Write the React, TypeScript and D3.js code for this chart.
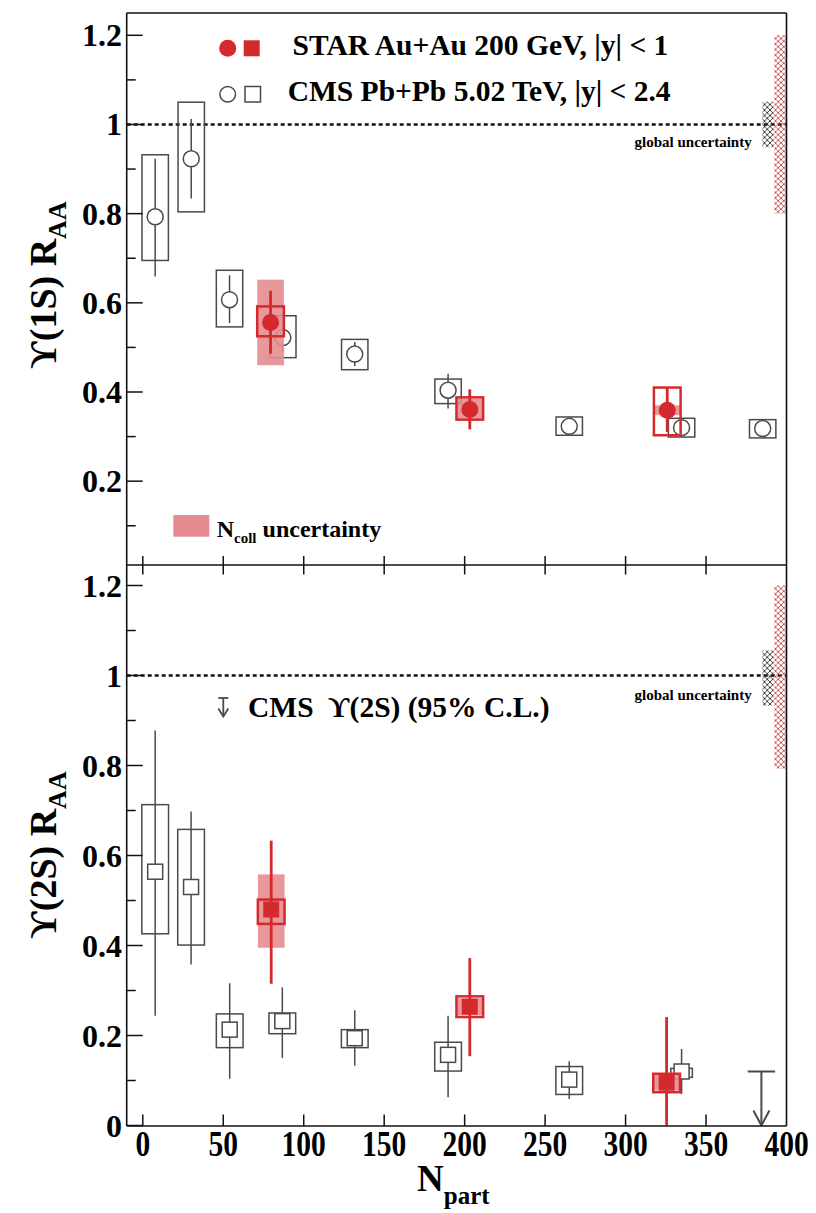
import React from 'react';
import * as d3 from 'd3';

// ---------- data ----------
// CMS Upsilon(1S), Pb+Pb 5.02 TeV
const cms1sNpart = [7.7, 30.1, 53.9, 87.0, 131.7, 189.7, 265.0, 334.8, 385.2];
const cms1sRaa = [0.793, 0.923, 0.607, 0.522, 0.485, 0.404, 0.323, 0.32, 0.318];
const cms1sStatLo = [0.659, 0.834, 0.555, 0.49, 0.458, 0.363, 0.31, 0.308, 0.306];
const cms1sStatHi = [0.923, 1.012, 0.662, 0.555, 0.512, 0.441, 0.336, 0.332, 0.33];
const cms1sSysLo = [0.695, 0.804, 0.546, 0.477, 0.45, 0.374, 0.303, 0.299, 0.297];
const cms1sSysHi = [0.932, 1.05, 0.673, 0.571, 0.518, 0.429, 0.344, 0.341, 0.338];

// STAR Upsilon(1S), Au+Au 200 GeV
const star1sNpart = [79.4, 203.2, 325.9];
const star1sRaa = [0.556, 0.361, 0.359];
const star1sStatLo = [0.486, 0.316, 0.31];
const star1sStatHi = [0.627, 0.406, 0.41];
const star1sSysLo = [0.525, 0.338, 0.303];
const star1sSysHi = [0.592, 0.388, 0.41];
const star1sNcollLo = [0.46, 0.34, 0.348];
const star1sNcollHi = [0.652, 0.385, 0.37];

// CMS Upsilon(2S)
const cms2sNpart = [7.7, 30.0, 54.0, 86.7, 131.7, 189.7, 265.0, 334.8];
const cms2sRaa = [0.564, 0.53, 0.213, 0.232, 0.194, 0.157, 0.102, 0.12];
const cms2sStatLo = [0.244, 0.358, 0.104, 0.15, 0.133, 0.063, 0.059, 0.07];
const cms2sStatHi = [0.878, 0.698, 0.316, 0.307, 0.256, 0.244, 0.143, 0.17];
const cms2sSysLo = [0.426, 0.401, 0.173, 0.204, 0.173, 0.121, 0.069, 0.107];
const cms2sSysHi = [0.713, 0.658, 0.248, 0.25, 0.213, 0.185, 0.131, 0.127];
const cms2sBoxHalf = [8.3, 8.3, 8.3, 8.3, 8.3, 8.3, 8.3, 6.7];
const cms2sLimitNpart = [384.4];
const cms2sLimit = [0.12];

// STAR Upsilon(2S)
const star2sNpart = [79.8, 203.2, 325.5];
const star2sRaa = [0.48, 0.264, 0.095];
const star2sStatLo = [0.315, 0.154, 0.0];
const star2sStatHi = [0.633, 0.372, 0.241];
const star2sSysLo = [0.448, 0.241, 0.074];
const star2sSysHi = [0.502, 0.287, 0.115];
const star2sNcollLo = [0.395, 0.245, 0.078];
const star2sNcollHi = [0.558, 0.283, 0.112];

// global uncertainties (around unity)
const globalCms1s = [0.949, 1.051];
const globalStar1s = [0.8, 1.2];
const globalCms2s = [0.933, 1.056];
const globalStar2s = [0.793, 1.2];
const globalCmsX = [385, 392];
const globalStarX = [392.4, 400];

const xTicks = [0, 50, 100, 150, 200, 250, 300, 350, 400];
const yTicksTop = [0.2, 0.4, 0.6, 0.8, 1, 1.2];
const yTicksBottom = [0, 0.2, 0.4, 0.6, 0.8, 1, 1.2];

// ---------- styling ----------
const RED = '#d42a2e';
const PINK = '#e68c90';
const GRAY = '#4a4a4a';
const FONT = "'Liberation Serif', 'Times New Roman', 'DejaVu Serif', serif";

const xL = 126.7;
const xR = 786.5;
const topY0 = 13;
const midY = 565;
const botY1 = 1126;

const x = d3.scaleLinear().domain([-10, 400]).range([xL, xR]);
const yT = d3.scaleLinear().domain([0.012, 1.25]).range([midY, topY0]);
const yB = d3.scaleLinear().domain([0, 1.25]).range([1125.5, 563]);

const CMS_HALF = 8.2;
const STAR_HALF = 8.3;

function fmt(v: number) {
  return d3.format('~g')(+v.toFixed(2));
}

function LeftTicks({ y, lo, hi, labels }: { y: any; lo: number; hi: number; labels: number[] }) {
  const minor = d3.range(Math.round(lo * 10), Math.round(hi * 10) + 1).map((k) => k / 10);
  return (
    <g>
      {minor.map((v) => {
        const major = Math.round(v * 10) % 2 === 0;
        return (
          <line key={v} x1={xL} x2={xL + (major ? 16 : 9)} y1={y(v)} y2={y(v)} stroke="#111" strokeWidth={1.5} />
        );
      })}
      {labels.map((v) => (
        <text key={'l' + v} x={122} y={y(v) + 11} textAnchor="end" fontSize={32} fontWeight="bold" fontFamily={FONT}>
          {fmt(v)}
        </text>
      ))}
    </g>
  );
}

function GlobalBands({ y, cms, star, textY }: { y: any; cms: number[]; star: number[]; textY: number }) {
  return (
    <g>
      <line x1={xL} x2={xR} y1={y(1)} y2={y(1)} stroke="#111" strokeWidth={2.4} strokeDasharray="4 3" />
      <rect x={x(globalCmsX[0])} width={x(globalCmsX[1]) - x(globalCmsX[0])} y={y(cms[1])} height={y(cms[0]) - y(cms[1])} fill="url(#hatchBlack)" />
      <rect x={x(globalStarX[0])} width={x(globalStarX[1]) - x(globalStarX[0])} y={y(star[1])} height={y(star[0]) - y(star[1])} fill="url(#hatchRed)" />
      <text x={751.7} y={textY} textAnchor="end" fontSize={15} fontWeight="bold" fontFamily={FONT}>
        global uncertainty
      </text>
    </g>
  );
}

export default function App() {
  return (
    <svg
      width={816}
      height={1213}
      viewBox="0 0 816 1213"
      style={{ position: 'absolute', left: 0, top: 0, background: '#fff' }}
    >
      <defs>
        <pattern id="hatchRed" width={5.5} height={5.5} patternUnits="userSpaceOnUse">
          <path d="M0,0 L5.5,5.5 M5.5,0 L0,5.5" stroke="#c4484c" strokeWidth={0.9} />
        </pattern>
        <pattern id="hatchBlack" width={5.5} height={5.5} patternUnits="userSpaceOnUse">
          <path d="M0,0 L5.5,5.5 M5.5,0 L0,5.5" stroke="#333" strokeWidth={0.9} />
        </pattern>
        <clipPath id="clipTop">
          <rect x={xL} y={topY0} width={xR - xL} height={midY - topY0} />
        </clipPath>
        <clipPath id="clipBot">
          <rect x={xL} y={midY} width={xR - xL} height={botY1 - midY} />
        </clipPath>
      </defs>
      <rect x={0} y={0} width={816} height={1213} fill="#fff" />

      {/* ================= TOP PANEL ================= */}
      <g clipPath="url(#clipTop)">
        <GlobalBands y={yT} cms={globalCms1s} star={globalStar1s} textY={146.5} />
        {/* CMS 1S */}
        {cms1sNpart.map((n, i) => (
          <g key={'c1' + i}>
            <rect
              x={x(n - CMS_HALF)}
              width={x(n + CMS_HALF) - x(n - CMS_HALF)}
              y={yT(cms1sSysHi[i])}
              height={yT(cms1sSysLo[i]) - yT(cms1sSysHi[i])}
              fill="none"
              stroke={GRAY}
              strokeWidth={1.5}
            />
            <line x1={x(n)} x2={x(n)} y1={yT(cms1sStatHi[i])} y2={yT(cms1sStatLo[i])} stroke={GRAY} strokeWidth={1.5} />
            <circle cx={x(n)} cy={yT(cms1sRaa[i])} r={8} fill="#fff" stroke={GRAY} strokeWidth={1.5} />
          </g>
        ))}
        {/* STAR 1S */}
        {star1sNpart.map((n, i) => (
          <g key={'s1' + i}>
            <rect
              x={x(n - STAR_HALF)}
              width={x(n + STAR_HALF) - x(n - STAR_HALF)}
              y={yT(star1sNcollHi[i])}
              height={yT(star1sNcollLo[i]) - yT(star1sNcollHi[i])}
              fill={PINK}
              opacity={0.9}
            />
            <rect
              x={x(n - STAR_HALF)}
              width={x(n + STAR_HALF) - x(n - STAR_HALF)}
              y={yT(star1sSysHi[i])}
              height={yT(star1sSysLo[i]) - yT(star1sSysHi[i])}
              fill="none"
              stroke={RED}
              strokeWidth={2.5}
            />
            <line x1={x(n)} x2={x(n)} y1={yT(star1sStatHi[i])} y2={yT(star1sStatLo[i])} stroke={RED} strokeWidth={2.8} />
            <circle cx={x(n)} cy={yT(star1sRaa[i])} r={8.5} fill={RED} />
          </g>
        ))}
      </g>

      {/* legend top */}
      <circle cx={227.7} cy={48.3} r={8.5} fill={RED} />
      <rect x={243.7} y={40.3} width={16} height={16} fill={RED} />
      <text x={292.5} y={54.5} fontSize={29.5} fontWeight="bold" fontFamily={FONT}>
        STAR Au+Au 200 GeV, |y| &lt; 1
      </text>
      <circle cx={227.7} cy={94.3} r={7.8} fill="#fff" stroke={GRAY} strokeWidth={1.5} />
      <rect x={245} y={86.5} width={15.5} height={15.5} fill="#fff" stroke={GRAY} strokeWidth={1.5} />
      <text x={287.7} y={100.5} fontSize={29.5} fontWeight="bold" fontFamily={FONT}>
        CMS Pb+Pb 5.02 TeV, |y| &lt; 2.4
      </text>

      {/* Ncoll legend */}
      <rect x={173.3} y={515} width={36} height={21.7} fill={PINK} />
      <text x={216.7} y={536.7} fontSize={24} fontWeight="bold" fontFamily={FONT}>
        N
        <tspan fontSize={15} dy={6}>coll</tspan>
        <tspan dy={-6}> uncertainty</tspan>
      </text>

      {/* ================= BOTTOM PANEL ================= */}
      <g clipPath="url(#clipBot)">
        <GlobalBands y={yB} cms={globalCms2s} star={globalStar2s} textY={700} />
        {/* CMS 2S */}
        {cms2sNpart.map((n, i) => (
          <g key={'c2' + i}>
            <rect
              x={x(n - cms2sBoxHalf[i])}
              width={x(n + cms2sBoxHalf[i]) - x(n - cms2sBoxHalf[i])}
              y={yB(cms2sSysHi[i])}
              height={yB(cms2sSysLo[i]) - yB(cms2sSysHi[i])}
              fill="none"
              stroke={GRAY}
              strokeWidth={1.5}
            />
            <line x1={x(n)} x2={x(n)} y1={yB(cms2sStatHi[i])} y2={yB(cms2sStatLo[i])} stroke={GRAY} strokeWidth={1.5} />
            <rect x={x(n) - 7.5} y={yB(cms2sRaa[i]) - 7.5} width={15} height={15} fill="#fff" stroke={GRAY} strokeWidth={1.5} />
          </g>
        ))}
        {/* CMS 2S upper limit */}
        {cms2sLimitNpart.map((n, i) => (
          <g key={'lim' + i} stroke={GRAY} strokeWidth={2} fill="none">
            <line x1={x(n - 8.5)} x2={x(n + 8.5)} y1={yB(cms2sLimit[i])} y2={yB(cms2sLimit[i])} />
            <line x1={x(n)} x2={x(n)} y1={yB(cms2sLimit[i])} y2={yB(0)} />
            <polyline points={`${x(n) - 8},${yB(0) - 15} ${x(n)},${yB(0)} ${x(n) + 8},${yB(0) - 15}`} />
          </g>
        ))}
        {/* STAR 2S */}
        {star2sNpart.map((n, i) => (
          <g key={'s2' + i}>
            <rect
              x={x(n - STAR_HALF)}
              width={x(n + STAR_HALF) - x(n - STAR_HALF)}
              y={yB(star2sNcollHi[i])}
              height={yB(star2sNcollLo[i]) - yB(star2sNcollHi[i])}
              fill={PINK}
              opacity={0.9}
            />
            <rect
              x={x(n - STAR_HALF)}
              width={x(n + STAR_HALF) - x(n - STAR_HALF)}
              y={yB(star2sSysHi[i])}
              height={yB(star2sSysLo[i]) - yB(star2sSysHi[i])}
              fill="none"
              stroke={RED}
              strokeWidth={2.5}
            />
            <line x1={x(n)} x2={x(n)} y1={yB(star2sStatHi[i])} y2={yB(star2sStatLo[i])} stroke={RED} strokeWidth={2.8} />
            <rect x={x(n) - 8} y={yB(star2sRaa[i]) - 8} width={16} height={16} fill={RED} />
          </g>
        ))}
      </g>

      {/* upper-limit legend */}
      <g stroke={GRAY} strokeWidth={1.8} fill="none">
        <line x1={218.3} x2={228.3} y1={698} y2={698} />
        <line x1={223.3} x2={223.3} y1={698} y2={716} />
        <polyline points="218.3,708.5 223.3,716.5 228.3,708.5" />
      </g>
      <text x={248} y={716.5} fontSize={29.5} fontWeight="bold" fontFamily={FONT} style={{ whiteSpace: 'pre' }}>
        {'CMS  \u03D2(2S) (95% C.L.)'}
      </text>

      {/* ================= AXES ================= */}
      <g stroke="#111" strokeWidth={1.6} fill="none">
        <line x1={xL} x2={xR} y1={topY0} y2={topY0} />
        <line x1={xL} x2={xR} y1={midY} y2={midY} />
        <line x1={xL} x2={xR} y1={botY1} y2={botY1} />
        <line x1={xL} x2={xL} y1={topY0} y2={botY1} />
        <line x1={xR} x2={xR} y1={topY0} y2={botY1} />
      </g>
      <LeftTicks y={yT} lo={0.1} hi={1.2} labels={yTicksTop} />
      <LeftTicks y={yB} lo={0} hi={1.2} labels={yTicksBottom} />

      {xTicks.filter((t) => t < 400).map((t) => (
        <g key={'xt' + t} stroke="#111" strokeWidth={1.5}>
          <line x1={x(t)} x2={x(t)} y1={midY} y2={midY - 9} />
          <line x1={x(t)} x2={x(t)} y1={midY} y2={midY + 9.5} />
          <line x1={x(t)} x2={x(t)} y1={botY1} y2={botY1 - 11.5} />
        </g>
      ))}
      {xTicks.map((t) => (
        <text
          key={'xl' + t}
          transform={`translate(${x(t)},1156) scale(0.82,1)`}
          textAnchor="middle"
          fontSize={36}
          fontWeight="bold"
          fontFamily={FONT}
        >
          {t}
        </text>
      ))}

      {/* axis titles */}
      <text x={417} y={1191} fontSize={37} fontWeight="bold" fontFamily={FONT}>
        N
        <tspan fontSize={25} dy={13}>part</tspan>
      </text>
      <text transform="translate(56,285) rotate(-90)" textAnchor="middle" fontSize={38} fontWeight="bold" fontFamily={FONT}>
        {'\u03D2(1S) R'}
        <tspan fontSize={26} dy={10}>AA</tspan>
      </text>
      <text transform="translate(56,855) rotate(-90)" textAnchor="middle" fontSize={38} fontWeight="bold" fontFamily={FONT}>
        {'\u03D2(2S) R'}
        <tspan fontSize={26} dy={10}>AA</tspan>
      </text>
    </svg>
  );
}
